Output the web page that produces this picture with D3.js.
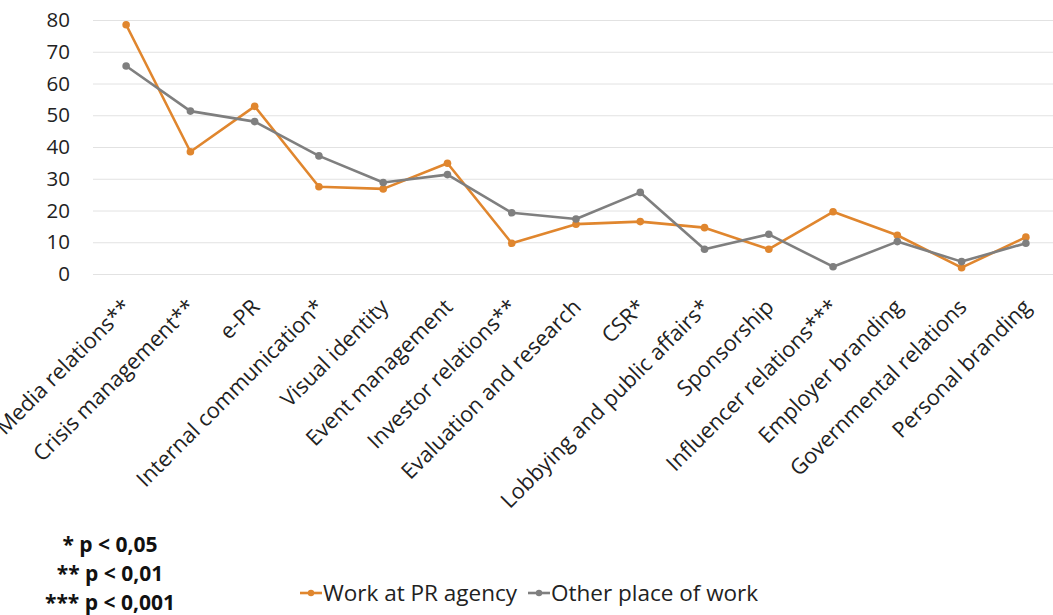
<!DOCTYPE html>
<html>
<head>
<meta charset="utf-8">
<script src="https://cdn.jsdelivr.net/npm/d3@7"></script>
<style>
  html, body { margin: 0; padding: 0; background: #fff; }
  svg { display: block; }
</style>
</head>
<body>
<div id="chart"></div>
<script>
// categories along the x axis (asterisks mark significance)
const categories = [
  "Media relations**", "Crisis management**", "e-PR", "Internal communication*",
  "Visual identity", "Event management", "Investor relations**", "Evaluation and research",
  "CSR*", "Lobbying and public affairs*", "Sponsorship", "Influencer relations***",
  "Employer branding", "Governmental relations", "Personal branding"
];

// values
const agencyValues = [78.5, 38.5, 52.8, 27.5, 26.8, 34.9, 9.7, 15.7, 16.5, 14.6, 7.8, 19.6, 12.2, 2.0, 11.6];
const otherValues  = [65.5, 51.3, 48.0, 37.2, 28.8, 31.3, 19.3, 17.3, 25.7, 7.8, 12.5, 2.3, 10.2, 3.9, 9.7];

const seriesNames = ["Work at PR agency", "Other place of work"];
const yTicks = [0, 10, 20, 30, 40, 50, 60, 70, 80];
const footnotes = ["* p < 0,05", "** p < 0,01", "*** p < 0,001"];

const width = 1053, height = 615;
const colors = ["#e0862e", "#7f7f7f"];
const font = "'Open Sans', sans-serif";

const svg = d3.select("#chart").append("svg")
  .attr("width", width)
  .attr("height", height)
  .attr("font-family", font);

const x = d3.scaleBand()
  .domain(categories)
  .range([94, 1058])
  .padding(0);

const y = d3.scaleLinear()
  .domain([0, 80])
  .range([274, 20]);

const cx = d => x(d) + x.bandwidth() / 2;

// gridlines + y labels
const yAxis = d3.axisLeft(y)
  .tickValues(yTicks)
  .tickSize(-(width - 93))
  .tickPadding(23);

svg.append("g")
  .attr("transform", "translate(93,0)")
  .call(yAxis)
  .call(g => g.select(".domain").remove())
  .call(g => g.selectAll(".tick line").attr("stroke", "#e2e2e2").attr("stroke-width", 1))
  .call(g => g.selectAll(".tick text")
    .attr("fill", "#222")
    .attr("font-size", 20.5)
    .attr("font-family", font));

// rotated category labels
svg.append("g")
  .selectAll("text")
  .data(categories)
  .join("text")
  .attr("transform", d => `translate(${cx(d) + 1},${303}) rotate(-45)`)
  .attr("text-anchor", "end")
  .attr("dy", "0.35em")
  .attr("font-size", 21.7)
  .attr("fill", "#222")
  .text(d => d);

// lines
const series = [agencyValues, otherValues];
const line = d3.line()
  .x((d, i) => cx(categories[i]))
  .y(d => y(d));

series.forEach((vals, k) => {
  svg.append("path")
    .datum(vals)
    .attr("fill", "none")
    .attr("stroke", colors[k])
    .attr("stroke-width", 2.6)
    .attr("stroke-linejoin", "round")
    .attr("d", line);

  svg.append("g")
    .selectAll("circle")
    .data(vals)
    .join("circle")
    .attr("cx", (d, i) => cx(categories[i]))
    .attr("cy", d => y(d))
    .attr("r", 3.8)
    .attr("fill", colors[k]);
});

// legend
const legendItems = [
  { name: seriesNames[0], color: colors[0], x: 300 },
  { name: seriesNames[1], color: colors[1], x: 528 }
];
const legend = svg.append("g").attr("font-size", 22.5).attr("fill", "#222");
legendItems.forEach(it => {
  const g = legend.append("g").attr("transform", `translate(${it.x},593)`);
  g.append("line").attr("x1", 0).attr("x2", 22).attr("stroke", it.color).attr("stroke-width", 2.6);
  g.append("circle").attr("cx", 11).attr("r", 3.2).attr("fill", it.color);
  g.append("text").attr("x", 23).attr("dy", "0.35em").text(it.name);
});

// significance footnotes
svg.append("g")
  .selectAll("text")
  .data(footnotes)
  .join("text")
  .attr("x", 110)
  .attr("y", (d, i) => 545 + i * 29)
  .attr("dy", "0.35em")
  .attr("text-anchor", "middle")
  .attr("font-weight", "bold")
  .attr("font-size", 21)
  .attr("fill", "#111")
  .text(d => d);
</script>
</body>
</html>
